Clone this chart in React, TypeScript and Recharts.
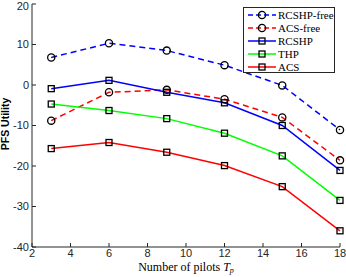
import React from "react";
import {
  LineChart,
  Line,
  XAxis,
  YAxis,
  Legend,
  Label,
} from "recharts";

const pilots = [3, 6, 9, 12, 15, 18];
const rcshpFree = [6.8, 10.3, 8.5, 4.9, -0.1, -11.1];
const acsFree = [-8.8, -1.8, -1.2, -3.5, -8.0, -18.6];
const rcshp = [-0.9, 1.15, -1.8, -4.4, -10.0, -21.1];
const thp = [-4.7, -6.3, -8.3, -11.9, -17.5, -28.5];
const acs = [-15.7, -14.2, -16.6, -19.9, -25.1, -36.0];

const xTicks = [2, 4, 6, 8, 10, 12, 14, 16, 18];
const yTicks = [-40, -30, -20, -10, 0, 10, 20];

const data = pilots.map((p, i) => ({
  p,
  rcshpFree: rcshpFree[i],
  acsFree: acsFree[i],
  rcshp: rcshp[i],
  thp: thp[i],
  acs: acs[i],
}));

const SERIES = [
  { key: "rcshpFree", name: "RCSHP-free", color: "#0000ff", dash: "6 4", marker: "circle" },
  { key: "acsFree", name: "ACS-free", color: "#ff0000", dash: "6 4", marker: "circle" },
  { key: "rcshp", name: "RCSHP", color: "#0000ff", dash: undefined, marker: "square" },
  { key: "thp", name: "THP", color: "#00ff00", dash: undefined, marker: "square" },
  { key: "acs", name: "ACS", color: "#ff0000", dash: undefined, marker: "square" },
];

const AXIS = "#262626";
const SERIF = "'Liberation Serif', 'DejaVu Serif', serif";
const SANS = "'Liberation Sans', Arial, sans-serif";

function Marker(props: any) {
  const { cx, cy, kind } = props;
  if (cx == null || cy == null) return null;
  if (kind === "circle") {
    return <circle cx={cx} cy={cy} r={3.6} fill="none" stroke="#000" strokeWidth={1.3} />;
  }
  return <rect x={cx - 3} y={cy - 3} width={6} height={6} fill="none" stroke="#000" strokeWidth={1.3} />;
}

function LegendBox() {
  return (
    <div
      style={{
        position: "absolute",
        left: 243,
        top: 7,
        width: 92,
        height: 66,
        border: `1px solid ${AXIS}`,
        background: "#fff",
        boxSizing: "border-box",
        paddingTop: 1,
      }}
    >
      {SERIES.map((s) => (
        <div key={s.key} style={{ display: "flex", alignItems: "center", height: 12.8, whiteSpace: "nowrap" }}>
          <svg width={33} height={12} style={{ flex: "none" }}>
            <line x1={4} y1={6} x2={32} y2={6} stroke={s.color} strokeWidth={1.5} strokeDasharray={s.dash ? "5 3" : undefined} />
            <Marker cx={18} cy={6} kind={s.marker} />
          </svg>
          <span style={{ fontFamily: SERIF, fontSize: 11, color: "#000", lineHeight: "12px", marginLeft: 1 }}>{s.name}</span>
        </div>
      ))}
    </div>
  );
}

export default function App() {
  return (
    <div style={{ position: "absolute", left: 0, top: 0, background: "#fff" }}>
      <LineChart width={346} height={277} data={data} margin={{ top: 4, right: 6, bottom: 0, left: 0 }}>
        <XAxis
          dataKey="p"
          type="number"
          domain={[2, 18]}
          ticks={xTicks}
          height={30}
          stroke={AXIS}
          tickSize={-4}
          tickMargin={6}
          tick={{ fontSize: 11, fill: AXIS, fontFamily: SANS }}
        >
          <Label
            content={() => (
              <text x={186} y={271} textAnchor="middle" fontFamily={SERIF} fontSize={12} fill="#000">
                Number of pilots <tspan fontStyle="italic">T</tspan>
                <tspan fontStyle="italic" fontSize={8} dy={2}>p</tspan>
              </text>
            )}
          />
        </XAxis>
        <XAxis
          xAxisId="top"
          dataKey="p"
          type="number"
          orientation="top"
          domain={[2, 18]}
          ticks={xTicks}
          height={0}
          stroke={AXIS}
          tickSize={-4}
          tickFormatter={() => ""}
        />
        <YAxis
          domain={[-40, 20]}
          ticks={yTicks}
          width={32}
          stroke={AXIS}
          tickSize={-4}
          tickMargin={7}
          tick={{ fontSize: 11, fill: AXIS, fontFamily: SANS }}
        >
          <Label
            content={() => (
              <text
                x={9}
                y={124}
                transform="rotate(-90 9 124)"
                textAnchor="middle"
                fontFamily={SANS}
                fontWeight="bold"
                fontSize={10.5}
                fill="#000"
              >
                PFS Utility
              </text>
            )}
          />
        </YAxis>
        <YAxis
          yAxisId="right"
          orientation="right"
          domain={[-40, 20]}
          ticks={yTicks}
          width={0}
          stroke={AXIS}
          tickSize={-4}
          tickFormatter={() => ""}
        />
        {SERIES.map((s) => (
          <Line
            key={s.key}
            dataKey={s.key}
            name={s.name}
            stroke={s.color}
            strokeWidth={1.5}
            strokeDasharray={s.dash}
            dot={(p: any) => <Marker key={`${s.key}-${p.index}`} cx={p.cx} cy={p.cy} kind={s.marker} />}
            activeDot={false}
            isAnimationActive={false}
          />
        ))}
        <Legend content={() => <LegendBox />} wrapperStyle={{ position: "absolute", left: 0, top: 0, width: 0, height: 0 }} />
      </LineChart>
    </div>
  );
}
